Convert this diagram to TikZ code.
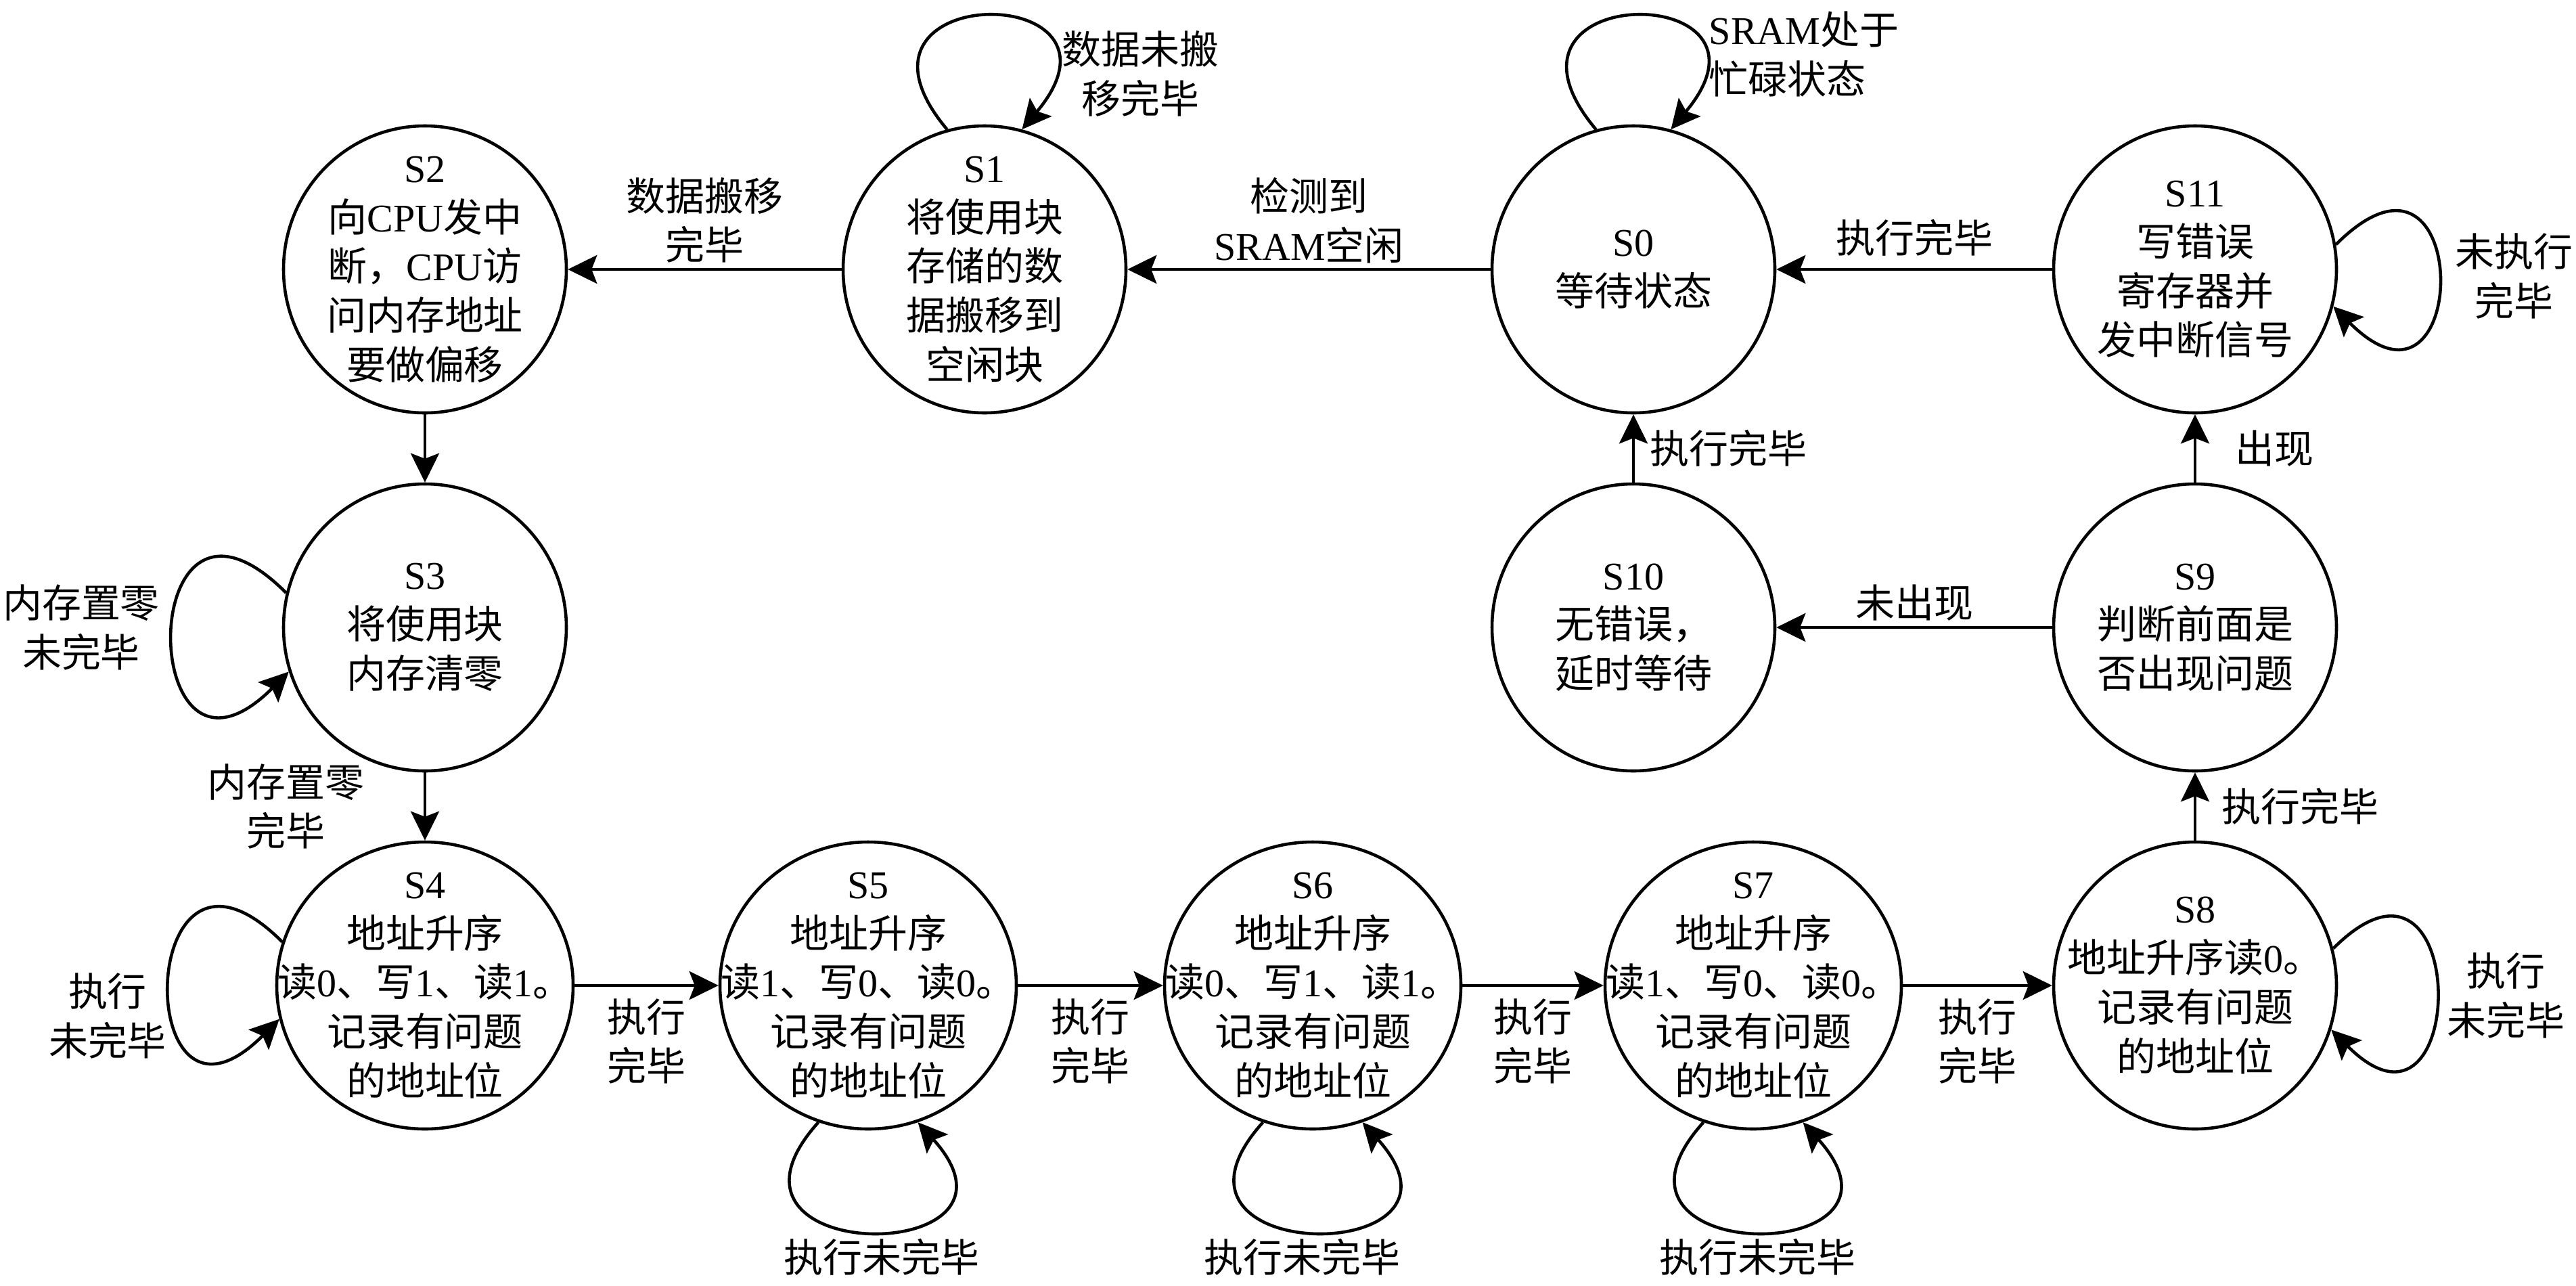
\documentclass[tikz,border=0pt]{standalone}
\usepackage{fontspec}
\setmainfont{Liberation Serif}
\newfontfamily\cjk{Noto Sans CJK SC}
\usetikzlibrary{arrows.meta,shapes.geometric}
% switch to the CJK font for Chinese characters
\newcount\cjkcode
\newXeTeXintercharclass\cjkclass
\def\cjkrange#1#2{\cjkcode=#1 \loop\XeTeXcharclass\cjkcode=\cjkclass \ifnum\cjkcode<#2 \advance\cjkcode by 1 \repeat}
\cjkrange{"3000}{"303F}
\cjkrange{"4E00}{"9FFF}
\cjkrange{"FF00}{"FFEF}
\XeTeXinterchartokenstate=1
\XeTeXinterchartoks 0 \cjkclass = {\cjk}
\XeTeXinterchartoks 4095 \cjkclass = {\cjk}
\XeTeXinterchartoks \cjkclass 0 = {\rmfamily}
\XeTeXinterchartoks \cjkclass 4095 = {\rmfamily}
\tikzset{
  state/.style={ellipse, draw, line width=1.3pt, minimum width=4.18cm, minimum height=4.24cm, inner sep=0pt},
  wide/.style={minimum width=4.38cm},
  txt/.style={align=center, font=\fontsize{16.5}{20.7}\selectfont, inner sep=2pt},
  arr/.style={line width=1.3pt, -{Stealth[length=4.3mm, width=4.2mm, inset=0.8mm]}},
}
\begin{document}
\begin{tikzpicture}
\useasboundingbox (0,0) rectangle (38.07,-18.99);
% states
\node[state] (S0) at (24.14,-3.98) {};
\node[state] (S1) at (14.55,-3.98) {};
\node[state] (S2) at (6.28,-3.98) {};
\node[state] (S3) at (6.28,-9.27) {};
\node[state,wide] (S4) at (6.28,-14.56) {};
\node[state,wide] (S5) at (12.83,-14.56) {};
\node[state,wide] (S6) at (19.40,-14.56) {};
\node[state,wide] (S7) at (25.91,-14.56) {};
\node[state] (S8) at (32.44,-14.56) {};
\node[state] (S9) at (32.44,-9.27) {};
\node[state] (S10) at (24.14,-9.27) {};
\node[state] (S11) at (32.44,-3.98) {};
% state texts
\node[txt] (T0) at (S0) {S0\\等待状态};
\node[txt] (T1) at (S1) {S1\\将使用块\\存储的数\\据搬移到\\空闲块};
\node[txt] (T2) at (S2) {S2\\向CPU发中\\断，CPU访\\问内存地址\\要做偏移};
\node[txt] (T3) at (S3) {S3\\将使用块\\内存清零};
\node[txt] (T4) at (S4) {S4\\地址升序\\读0、写1、读1。\\记录有问题\\的地址位};
\node[txt] (T5) at (S5) {S5\\地址升序\\读1、写0、读0。\\记录有问题\\的地址位};
\node[txt] (T6) at (S6) {S6\\地址升序\\读0、写1、读1。\\记录有问题\\的地址位};
\node[txt] (T7) at (S7) {S7\\地址升序\\读1、写0、读0。\\记录有问题\\的地址位};
\node[txt] (T8) at (S8) {S8\\地址升序读0。\\记录有问题\\的地址位};
\node[txt] (T9) at (S9) {S9\\判断前面是\\否出现问题};
\node[txt] (T10) at (S10) {S10\\无错误，\\延时等待};
\node[txt] (T11) at (S11) {S11\\写错误\\寄存器并\\发中断信号};
% transitions
\draw[arr] (S0) -- node[txt,above] {检测到\\SRAM空闲} (S1);
\draw[arr] (S1) -- node[txt,above] {数据搬移\\完毕} (S2);
\draw[arr] (S11) -- node[txt,above=1mm] {执行完毕} (S0);
\draw[arr] (S2) -- (S3);
\draw[arr] (S3) -- node[txt,left=8mm] {内存置零\\完毕} (S4);
\draw[arr] (S4) -- node[txt,below=1mm] {执行\\完毕} (S5);
\draw[arr] (S5) -- node[txt,below=1mm] {执行\\完毕} (S6);
\draw[arr] (S6) -- node[txt,below=1mm] {执行\\完毕} (S7);
\draw[arr] (S7) -- node[txt,below=1mm] {执行\\完毕} (S8);
\draw[arr] (S8) -- node[txt,right=3mm] {执行完毕} (S9);
\draw[arr] (S9) -- node[txt,right=5mm] {出现} (S11);
\draw[arr] (S9) -- node[txt,above] {未出现} (S10);
\draw[arr] (S10) -- node[txt,right=1.5mm] {执行完毕} (S0);
% self loops
\draw[arr] (S0.105) .. controls +(130:2.9) and +(50:2.9) .. (S0.75);
\draw[arr] (S1.105) .. controls +(130:2.9) and +(50:2.9) .. (S1.75);
\draw[arr] (S11.10) .. controls +(45:2.9) and +(-45:2.9) .. (S11.-15);
\draw[arr] (S8.15) .. controls +(45:2.9) and +(-45:2.9) .. (S8.-18);
\draw[arr] (S3.166) .. controls +(135:3.2) and +(225:3.2) .. (S3.198);
\draw[arr] (S4.163) .. controls +(135:3.1) and +(225:3.1) .. (S4.193);
\foreach \s in {S5,S6,S7}
  \draw[arr] (\s.250) .. controls +(228:2.9) and +(312:2.9) .. (\s.290);
% loop labels
\node[txt,align=left,anchor=west] (L0) at (25.18,-0.80) {SRAM处于\\忙碌状态};
\node[txt] (L1) at (16.85,-1.09) {数据未搬\\移完毕};
\node[txt] (L11) at (37.15,-4.08) {未执行\\完毕};
\node[txt] (L3) at (1.20,-9.27) {内存置零\\未完毕};
\node[txt] (L4) at (1.59,-15.01) {执行\\未完毕};
\node[txt] (L5) at (13.03,-18.57) {执行未完毕};
\node[txt] (L6) at (19.24,-18.57) {执行未完毕};
\node[txt] (L7) at (25.97,-18.57) {执行未完毕};
\node[txt] (L8) at (37.03,-14.71) {执行\\未完毕};
\end{tikzpicture}
\end{document}
